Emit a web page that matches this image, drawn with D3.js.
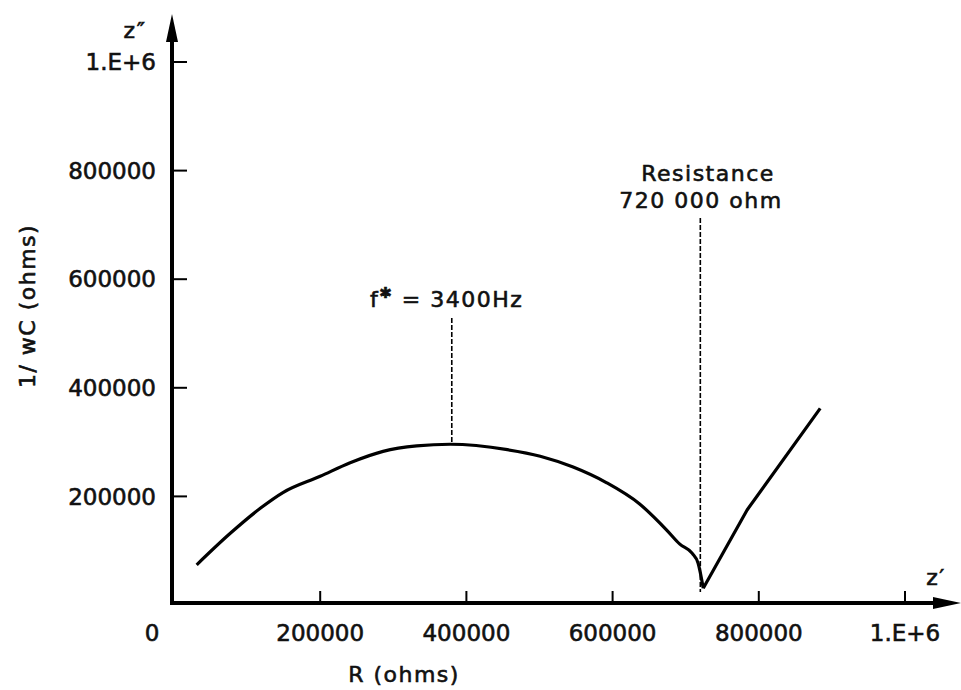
<!DOCTYPE html>
<html>
<head>
<meta charset="utf-8">
<title>Impedance plot</title>
<style>
  body { margin: 0; background: #fff; }
  text { font-family: "DejaVu Sans", sans-serif; fill: #111; stroke: #111; stroke-width: 0.6px; }
  .tick text { font-size: 23px; }
  .lbl { font-size: 22px; letter-spacing: 1.5px; }
</style>
</head>
<body>
<script src="https://cdn.jsdelivr.net/npm/d3@7"></script>
<script>
var width = 961, height = 690;

// curve data (ohms)
var rValues = [31000, 77000, 118000, 149000, 200000, 241000, 286000, 332000, 378000,
               456000, 501000, 546000, 592000, 637000, 674000, 692000, 709000, 717000, 724000,
               784000, 884000];
var xcValues = [74000, 132000, 178000, 207000, 237000, 262000, 283000, 293000, 296000,
                286000, 274000, 254000, 225000, 186000, 138000, 112000, 95000, 77000, 31000,
                175000, 362000];
var xTicks = [200000, 400000, 600000, 800000, 1000000];
var yTicks = [200000, 400000, 600000, 800000, 1000000];
var peakR = 380000, peakXc = 296000;
var resR = 720000;

var svg = d3.select("body").append("svg")
  .attr("width", width).attr("height", height);

var x = d3.scaleLinear().domain([0, 1000000]).range([174, 905]);
var y = d3.scaleLinear().domain([0, 1000000]).range([605, 62]);

function fmt(d) { return d === 1000000 ? "1.E+6" : String(d); }

// axes lines with arrows
var axisY0 = 603;
svg.append("path")
  .attr("d", "M172,28 L172," + axisY0 + " L945," + axisY0)
  .attr("fill", "none").attr("stroke", "#000").attr("stroke-width", 4);
svg.append("path")
  .attr("d", "M172,14 L166,42 L178,42 Z").attr("fill", "#000");
svg.append("path")
  .attr("d", "M961," + axisY0 + " L933," + (axisY0 - 6) + " L933," + (axisY0 + 6) + " Z").attr("fill", "#000");

// y ticks
var gy = svg.append("g").attr("class", "tick");
yTicks.forEach(function(t) {
  gy.append("line").attr("x1", 172).attr("x2", 187)
    .attr("y1", y(t)).attr("y2", y(t)).attr("stroke", "#000").attr("stroke-width", 2);
  gy.append("text").attr("x", 156).attr("y", y(t)).attr("dy", "0.36em")
    .attr("text-anchor", "end").text(fmt(t));
});

// x ticks
var gx = svg.append("g").attr("class", "tick");
xTicks.forEach(function(t) {
  gx.append("line").attr("x1", x(t)).attr("x2", x(t))
    .attr("y1", axisY0).attr("y2", axisY0 - 12).attr("stroke", "#000").attr("stroke-width", 2);
  gx.append("text").attr("x", x(t)).attr("y", 641)
    .attr("text-anchor", "middle").text(fmt(t));
});
gx.append("text").attr("x", 152).attr("y", 641).attr("text-anchor", "middle").text("0");

// axis names
svg.append("text").attr("class", "lbl").attr("x", 404).attr("y", 682)
  .attr("text-anchor", "middle").text("R (ohms)");
svg.append("text").attr("class", "lbl")
  .attr("transform", "translate(35,306) rotate(-90)")
  .attr("text-anchor", "middle").text("1/ wC (ohms)");
svg.append("text").attr("class", "lbl").attr("x", 135).attr("y", 38)
  .attr("text-anchor", "middle").text("z\u2033");
svg.append("text").attr("class", "lbl").attr("x", 936).attr("y", 585)
  .attr("text-anchor", "middle").text("z\u2032");

// curve: arc up to the resistance point, then the straight rise
var pts = rValues.map(function(r, i) { return [r, xcValues[i]]; });
var arcLine = d3.line()
  .x(function(d) { return x(d[0]); })
  .y(function(d) { return y(d[1]); })
  .curve(d3.curveMonotoneX);
svg.append("path").datum(pts.slice(0, 19))
  .attr("d", arcLine).attr("fill", "none").attr("stroke", "#000")
  .attr("stroke-width", 3.2).attr("stroke-linejoin", "round");
svg.append("path").datum(pts.slice(18))
  .attr("d", d3.line().x(function(d) { return x(d[0]); }).y(function(d) { return y(d[1]); }))
  .attr("fill", "none").attr("stroke", "#000")
  .attr("stroke-width", 3.2).attr("stroke-linejoin", "round");

// annotations
svg.append("line").attr("x1", x(peakR)).attr("x2", x(peakR))
  .attr("y1", 318).attr("y2", y(peakXc))
  .attr("stroke", "#000").attr("stroke-width", 1.6).attr("stroke-dasharray", "5,2");
var ft = svg.append("text").attr("class", "lbl").attr("x", 370).attr("y", 307);
ft.append("tspan").text("f");
ft.append("tspan").attr("dy", -9).attr("font-size", 15).text("\u2731");
ft.append("tspan").attr("dy", 9).text(" = 3400Hz");

svg.append("line").attr("x1", x(resR)).attr("x2", x(resR))
  .attr("y1", 218).attr("y2", 592)
  .attr("stroke", "#000").attr("stroke-width", 1.6).attr("stroke-dasharray", "5,2");
svg.append("text").attr("class", "lbl").attr("x", 708).attr("y", 181)
  .attr("text-anchor", "middle").text("Resistance");
svg.append("text").attr("class", "lbl").attr("x", 701).attr("y", 208)
  .attr("text-anchor", "middle").text("720 000 ohm");
</script>
</body>
</html>
